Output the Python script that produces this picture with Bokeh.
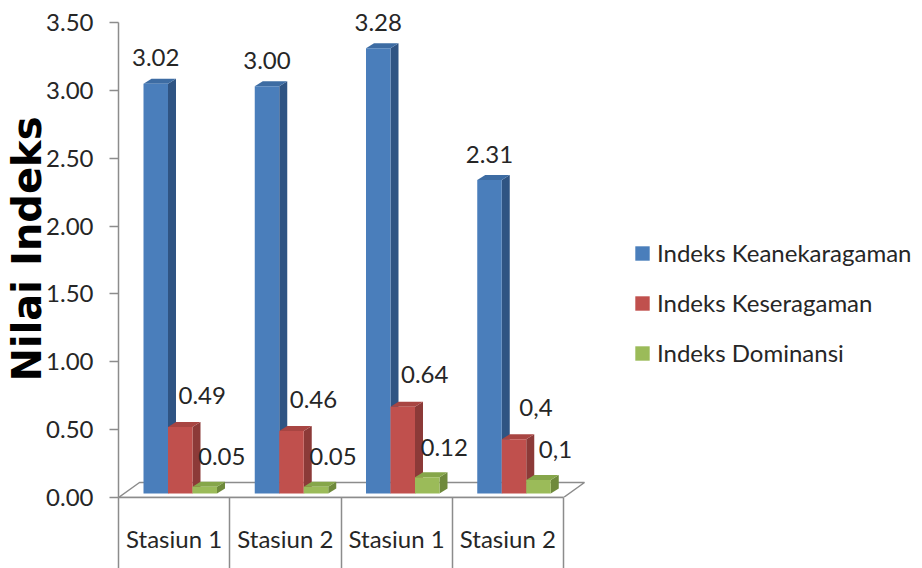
from bokeh.plotting import figure
from bokeh.models import FixedTicker, Legend, LegendItem, Range1d
from bokeh.core.properties import value
from bokeh.embed import file_html
from bokeh.resources import INLINE

# ---------------- data ----------------
categories = ["Stasiun 1", "Stasiun 2", "Stasiun 1", "Stasiun 2"]
series_names = ["Indeks Keanekaragaman", "Indeks Keseragaman", "Indeks Dominansi"]
keanekaragaman = [3.02, 3.00, 3.28, 2.31]
keseragaman = [0.49, 0.46, 0.64, 0.40]
dominansi = [0.05, 0.05, 0.12, 0.10]
labels_keanekaragaman = ["3.02", "3.00", "3.28", "2.31"]
labels_keseragaman = ["0.49", "0.46", "0.64", "0,4"]
labels_dominansi = ["0.05", "0.05", "0.12", "0,1"]
y_ticks = [0.0, 0.5, 1.0, 1.5, 2.0, 2.5, 3.0, 3.5]
y_tick_labels = ["0.00", "0.50", "1.00", "1.50", "2.00", "2.50", "3.00", "3.50"]
y_title = "Nilai Indeks"

# ---------------- style ----------------
XPX = 111.25            # pixels per category
YPX = 475 / 3.5         # pixels per value unit
FONT = "Lato"
FS = "24px"
TXT = "#262626"
AX = "#8c8c8c"
front_cols = ["#4A7EBB", "#C0504D", "#9BBB59"]
side_cols = ["#2F5483", "#8C3A38", "#6F8A3C"]
top_cols = ["#3D6CA3", "#A84542", "#86A64A"]
lab_dx = [0, 22, 17]
lab_dy = [-26, -32, -30]

GX = 25 / XPX           # gap from category start to first bar
BW = 24.5 / XPX         # bar width
BASE = 4 / YPX          # bars sit a little back on the floor
DX = 8 / XPX            # bar depth (x)
DY = 5 / YPX            # bar depth (y)
FX = 21 / XPX           # floor depth (x)
FY = 15 / YPX           # floor depth (y)

p = figure(width=922, height=568,
           x_range=Range1d(0, 804 / XPX), y_range=Range1d(0, 497 / YPX),
           output_backend="svg", toolbar_location=None,
           min_border_left=118, min_border_right=0, min_border_top=0,
           min_border_bottom=71)
p.outline_line_color = None
p.xgrid.visible = False
p.ygrid.visible = False
p.background_fill_color = "white"

n = len(categories)

# floor
p.patch([0, n, n + FX, FX], [0, 0, FY, FY], fill_color="white",
        line_color=AX, line_width=1.5)

series = [keanekaragaman, keseragaman, dominansi]
labels = [labels_keanekaragaman, labels_keseragaman, labels_dominansi]
legend_items = []
for s, vals in enumerate(series):
    lefts = [i + GX + s * BW for i in range(n)]
    rights = [l + BW for l in lefts]
    tops = [BASE + v for v in vals]
    side_xs = [[r, r + DX, r + DX, r] for r in rights]
    side_ys = [[BASE, BASE + DY, t + DY, t] for t in tops]
    top_xs = [[l, r, r + DX, l + DX] for l, r in zip(lefts, rights)]
    top_ys = [[t, t, t + DY, t + DY] for t in tops]
    p.patches(side_xs, side_ys, fill_color=side_cols[s], line_color=None)
    p.patches(top_xs, top_ys, fill_color=top_cols[s], line_color=None)
    r = p.quad(left=lefts, right=rights, bottom=[BASE] * n, top=tops,
               fill_color=front_cols[s], line_color=None)
    legend_items.append(LegendItem(label=series_names[s], renderers=[r]))
    p.text(x=[(l + rr) / 2 for l, rr in zip(lefts, rights)], y=tops,
           text=labels[s], text_font=value(FONT), text_font_size=FS,
           text_color=TXT, text_align="center", text_baseline="middle",
           x_offset=lab_dx[s], y_offset=lab_dy[s])

# y axis
ya = p.yaxis[0]
ya.ticker = FixedTicker(ticks=y_ticks)
ya.major_label_overrides = {t: l for t, l in zip(y_ticks, y_tick_labels)}
ya.bounds = (0, 3.5)
ya.axis_line_color = AX
ya.axis_line_width = 1.5
ya.major_tick_line_color = AX
ya.major_tick_line_width = 1.5
ya.major_tick_out = 9
ya.major_tick_in = 0
ya.minor_tick_line_color = None
ya.major_label_standoff = 16
ya.major_label_text_font = FONT
ya.major_label_text_font_size = FS
ya.major_label_text_color = TXT
ya.axis_label = y_title
ya.axis_label_text_font = "DejaVu Sans"
ya.axis_label_text_font_style = "bold"
ya.axis_label_text_font_size = "40px"
ya.axis_label_text_color = "black"
ya.axis_label_standoff = -7

# x axis
xa = p.xaxis[0]
xa.ticker = FixedTicker(ticks=[i + 0.5 for i in range(n)],
                        minor_ticks=list(range(n + 1)))
xa.major_label_overrides = {i + 0.5: c for i, c in enumerate(categories)}
xa.bounds = (0, n)
xa.axis_line_color = AX
xa.axis_line_width = 1.5
xa.major_tick_out = 0
xa.major_tick_in = 0
xa.major_tick_line_color = None
xa.minor_tick_out = 71
xa.minor_tick_in = 0
xa.minor_tick_line_color = AX
xa.minor_tick_line_width = 1.5
xa.major_label_standoff = -45
xa.major_label_text_font = FONT
xa.major_label_text_font_size = FS
xa.major_label_text_color = TXT

legend = Legend(items=legend_items, location=(515, 130),
                glyph_width=18, glyph_height=18, label_height=28,
                spacing=21, padding=0, margin=0, label_standoff=6,
                label_text_font=FONT, label_text_font_size=FS,
                label_text_color=TXT, border_line_alpha=0,
                background_fill_alpha=0)
p.add_layout(legend)

open("out.html", "w").write(file_html(p, INLINE))
